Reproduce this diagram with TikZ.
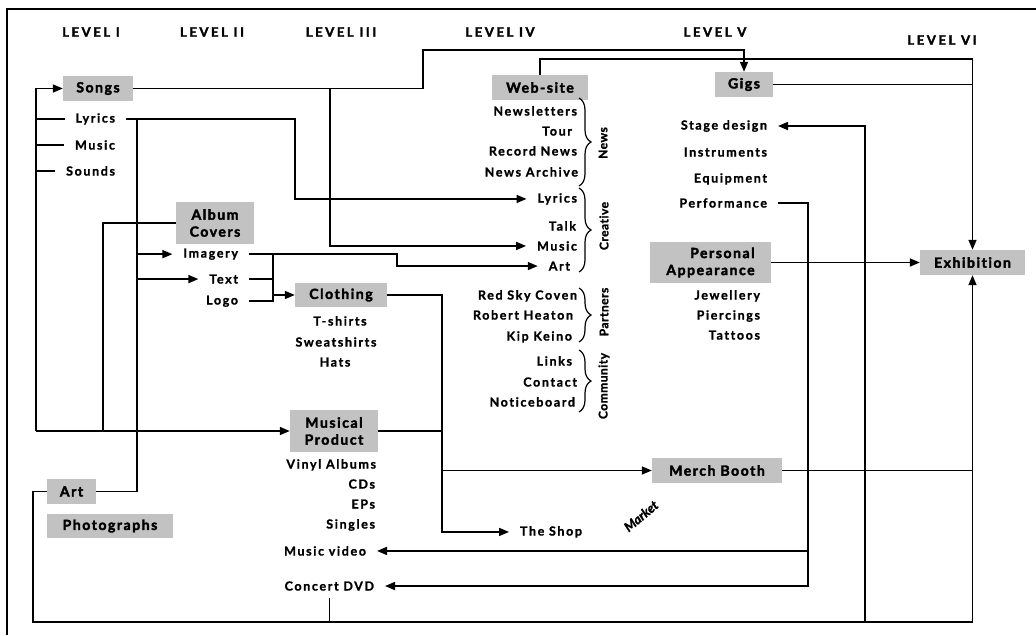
\documentclass[tikz,border=0pt]{standalone}
\usepackage{fontspec}
\setmainfont{Lato}
\newfontfamily\itemf{Lato}[LetterSpace=13, FakeBold=1.2, Ligatures=CommonOff]
\newfontfamily\boxf{Lato}[LetterSpace=11, FakeBold=2.5, Ligatures=CommonOff]
\newfontfamily\levf{Lato}[LetterSpace=20, FakeBold=2.5, Ligatures=CommonOff]
\newfontfamily\bracef{Lato}[LetterSpace=4, FakeBold=1.5, Ligatures=CommonOff]
\newfontfamily\mktf{Lato}[FakeBold=1.5]
\usetikzlibrary{arrows.meta,decorations.pathreplacing,calc}
\begin{document}
\begin{tikzpicture}[x=1pt,y=-1pt,
  conn/.style={line width=1.6pt},
  arr/.style={conn,-{Triangle[length=10pt,width=8pt]}},
  item/.style={font={\itemf\bfseries\fontsize{12.5}{14}\selectfont}, inner sep=0pt, outer xsep=11pt, anchor=mid east},
  citem/.style={font={\itemf\bfseries\fontsize{12.5}{14}\selectfont}, inner sep=0pt, anchor=mid},
  box/.style={fill=black!24, font={\boxf\bfseries\fontsize{14}{17}\selectfont}, inner sep=0pt, align=center, minimum height=25pt},
  lev/.style={font={\levf\bfseries\fontsize{13}{15}\selectfont}},
  brl/.style={font={\bracef\bfseries\fontsize{12}{14}\selectfont}, rotate=90},
  brc/.style={line width=1.2pt, decorate, decoration={brace, amplitude=12pt}}
]
\useasboundingbox (0,0) rectangle (1036,635);
% frame
\draw[line width=2.2pt] (7,635) -- (7,9) -- (1036,9);

% level labels
\node[lev] (l1) at (91,32) {LEVEL I};
\node[lev] (l2) at (212,32) {LEVEL II};
\node[lev] (l3) at (341,32) {LEVEL III};
\node[lev] (l4) at (500,32) {LEVEL IV};
\node[lev] (l5) at (715,32) {LEVEL V};
\node[lev] (l6) at (942,40) {LEVEL VI};

% boxes
\node[box, minimum width=70pt] (songs) at (98,88.5) {Songs};
\node[box, minimum width=78pt, minimum height=42pt] (album) at (215,223) {Album\\Covers};
\node[box, minimum width=88pt, minimum height=42pt] (musprod) at (334,431) {Musical\\Product};
\node[box, minimum width=121pt, minimum height=41pt, align=right] (persapp) at (710.5,262.5) {Personal\\Appearance};
\node[box, minimum width=96pt] (web) at (540,87.5) {Web-site};
\node[box, minimum width=58pt] (gigs) at (744,84.5) {Gigs};
\node[box, minimum width=92pt, minimum height=24pt] (cloth) at (341,295) {Clothing};
\node[box, minimum width=130pt] (merch) at (717,470.5) {Merch Booth};
\node[box, minimum width=105pt] (exhib) at (972.5,262.5) {Exhibition};
\node[box, minimum width=49pt] (art) at (71.5,491.5) {Art};
\node[box, minimum width=126pt, minimum height=24pt] (photo) at (110,526) {Photographs};

% songs items
\node[item] (lyr) at (126,120) {Lyrics};
\node[item] (mus) at (126,147) {Music};
\node[item] (snd) at (126,173) {Sounds};
% album items
\node[item] (img) at (249,255) {Imagery};
\node[item] (txt) at (249,281) {Text};
\node[item] (logo) at (249,302) {Logo};
% clothing items
\node[citem] (tsh) at (340,323) {T-shirts};
\node[citem] (swt) at (336,344) {Sweatshirts};
\node[citem] (hat) at (335,364) {Hats};
% website items
\node[item] (wnl) at (588,113) {Newsletters};
\node[item] (wtr) at (583,133) {Tour};
\node[item] (wrn) at (588,153) {Record News};
\node[item] (wna) at (589,174) {News Archive};
\node[item] (wlyr) at (588,200) {Lyrics};
\node[item] (wtk) at (587,228) {Talk};
\node[item] (wmus) at (588,248) {Music};
\node[item] (wart) at (581,268) {Art};
\node[item] (wrs) at (588,297) {Red Sky Coven};
\node[item] (wrh) at (584,317) {Robert Heaton};
\node[item] (wkk) at (583,338) {Kip Keino};
\node[item] (wlk) at (583,363) {Links};
\node[item] (wct) at (588,384) {Contact};
\node[item] (wnb) at (586,404) {Noticeboard};
% musical product items
\node[item] (vin) at (387,466) {Vinyl Albums};
\node[item] (cds) at (386,486) {CDs};
\node[item] (eps) at (386,506) {EPs};
\node[item] (sgl) at (386,526) {Singles};
\node[item] (mvid) at (377,553) {Music video};
\node[item] (cdvd) at (385,588) {Concert DVD};
% gigs items
\node[item] (stage) at (778,127) {Stage design};
\node[item] (inst) at (778,154) {Instruments};
\node[item] (equip) at (778,180) {Equipment};
\node[item] (perf) at (778,205) {Performance};
% personal appearance items
\node[item] (jew) at (771,297) {Jewellery};
\node[item] (pier) at (771,317) {Piercings};
\node[item] (tat) at (771,337) {Tattoos};
% shop
\node[item, anchor=mid west] (shop) at (509,533) {The Shop};
\node[font={\mktf\bfseries\itshape\fontsize{13}{15}\selectfont}, rotate=40, inner sep=0pt] (mkt) at (641,516) {Market};

% braces
\draw[brc] (579,98) -- (579,186);
\draw[brc] (579,188) -- (579,272);
\draw[brc] (579,288) -- (579,342);
\draw[brc] (579,350) -- (579,412);
\node[brl] (bnews) at (603,143) {News};
\node[brl] (bcre) at (604,226) {Creative};
\node[brl] (bpar) at (604,312) {Partners};
\node[brl] (bcom) at (604,386) {Community};

% coordinates
\coordinate (busB) at (36,431);
\coordinate (jAl) at (103,431);
\coordinate (jA) at (137,0);
\coordinate (j295) at (295,0);
\coordinate (j330) at (330,0);
\coordinate (jI) at (273,0);
\coordinate (j397) at (397,0);
\coordinate (jC) at (442,0);
\coordinate (j808) at (808,0);
\coordinate (j865) at (865,622);
\coordinate (jBL) at (33,622);
\coordinate (jS1) at (423,50);

% left bus
\draw[arr] (busB) |- (songs.west);
\draw[arr] (busB) -- (musprod.west);
\draw[conn] (lyr.west) -- (lyr.west -| busB);
\draw[conn] (mus.west) -- (mus.west -| busB);
\draw[conn] (snd.west) -- (snd.west -| busB);
\draw[conn] (album.west) -| (jAl);

% lyrics to website lyrics
\draw[arr] (lyr.east) -| (j295 |- wlyr.west) -- (wlyr.west);
% art bus
\draw[conn] (art.east) -| (jA |- lyr.east);
\draw[arr] (jA |- img.west) -- (img.west);
\draw[arr] (jA |- txt.west) -- (txt.west);
% imagery text logo
\draw[conn] (img.east) -- (img.east -| jI) -- (logo.east -| jI) -- (logo.east);
\draw[conn] (txt.east) -- (txt.east -| jI);
\draw[arr] (jI |- cloth.west) -- (cloth.west);
\draw[arr] (img.east) -| (j397 |- wart.west) -- (wart.west);
% songs
\draw[arr] (songs.east) -| (jS1) -| (gigs.north);
\draw[arr] (songs.east -| j330) |- (wmus.west);
% website to exhibition
\draw[arr] (web.north) -- ++(0,-16) -| (exhib.north);
\draw[conn] (gigs.east) -- (gigs.east -| exhib.north);
\draw[arr] (persapp.east) -- (exhib.west);
% stage design
\draw[arr] (j865) |- (stage.east);
% performance
\draw[arr] (perf.east) -| (j808 |- cdvd.east) -- (cdvd.east);
\draw[arr] (j808 |- mvid.east) -- (mvid.east);
% bottom line
\draw[arr] (art.west) -| (jBL) -| (exhib.south);
\draw[conn, shorten <=7pt] (cdvd.south) -- (cdvd.south |- jBL);
% clothing / musical product
\draw[arr] (cloth.east) -| (jC |- shop.west) -- (shop.west);
\draw[conn] (musprod.east) -- (musprod.east -| jC);
\draw[arr] (jC |- merch.west) -- (merch.west);
\draw[conn] (merch.east) -- (merch.east -| exhib.south);
\end{tikzpicture}
\end{document}
